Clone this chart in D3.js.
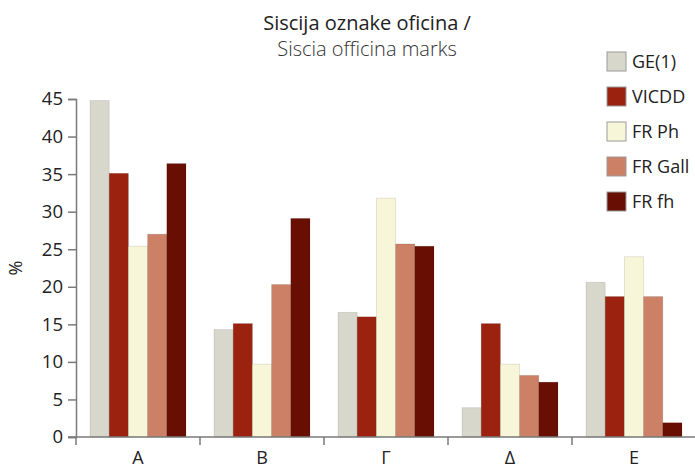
<!DOCTYPE html>
<html>
<head>
<meta charset="utf-8">
<script src="https://cdn.jsdelivr.net/npm/d3@7"></script>
<style>
  body { margin: 0; background: #fff; }
  svg { font-family: "Open Sans", "Noto Sans", sans-serif; }
</style>
</head>
<body>
<svg id="chart" width="695" height="469"></svg>
<script>
// --- Data ---
const categories = ['A', 'B', 'Γ', 'Δ', 'E'];
const seriesNames = ['GE(1)', 'VICDD', 'FR Ph', 'FR Gall', 'FR fh'];
const seriesColors = ['#d8d7cc', '#9c2210', '#f8f6d8', '#cc8167', '#690e02'];
const geValues = [44.8, 14.3, 16.6, 3.9, 20.6];
const vicddValues = [35.1, 15.1, 16.0, 15.1, 18.7];
const frPhValues = [25.4, 9.7, 31.8, 9.7, 24.0];
const frGallValues = [27.0, 20.3, 25.7, 8.2, 18.7];
const frFhValues = [36.4, 29.1, 25.4, 7.3, 1.9];
const yTicks = [0, 5, 10, 15, 20, 25, 30, 35, 40, 45];

const seriesValues = [geValues, vicddValues, frPhValues, frGallValues, frFhValues];

const svg = d3.select('#chart');
const axisColor = '#7a7a7a';
const textColor = '#222';

// --- Scales ---
const x0 = d3.scaleBand().domain(categories).range([76, 696]).padding(0);
const x1 = d3.scaleBand().domain(seriesNames).range([14, x0.bandwidth() - 14]).padding(0);
const y = d3.scaleLinear().domain([0, 45]).range([437, 99]);

// --- Title ---
svg.append('text')
  .attr('x', 367).attr('y', 30)
  .attr('text-anchor', 'middle')
  .attr('font-size', 20)
  .attr('fill', textColor)
  .text('Siscija oznake oficina /');
svg.append('text')
  .attr('x', 367).attr('y', 56)
  .attr('text-anchor', 'middle')
  .attr('font-size', 20)
  .attr('font-weight', 300)
  .attr('fill', '#333')
  .text('Siscia officina marks');

// --- Bars ---
const groups = svg.append('g').selectAll('g')
  .data(categories)
  .join('g')
  .attr('transform', d => `translate(${x0(d)},0)`);

groups.selectAll('rect')
  .data((c, ci) => seriesNames.map((s, si) => ({ s, si, v: seriesValues[si][ci] })))
  .join('rect')
  .attr('x', d => x1(d.s))
  .attr('y', d => y(d.v))
  .attr('width', x1.bandwidth())
  .attr('height', d => y(0) - y(d.v))
  .attr('fill', d => seriesColors[d.si])
  .attr('stroke', 'rgba(0,0,0,0.12)')
  .attr('stroke-width', 0.8);

// --- Y axis ---
const yAxis = svg.append('g')
  .attr('transform', 'translate(76,0)')
  .call(d3.axisLeft(y).tickValues(yTicks).tickSize(8).tickPadding(5));
yAxis.select('.domain').attr('stroke', axisColor).attr('stroke-width', 1.5);
yAxis.selectAll('.tick line').attr('stroke', axisColor).attr('stroke-width', 1.5);
yAxis.selectAll('.tick text')
  .attr('font-size', 18.5)
  .attr('fill', textColor)
  .attr('font-family', '"Open Sans", "Noto Sans", sans-serif');

svg.append('text')
  .attr('transform', 'translate(22,268) rotate(-90)')
  .attr('text-anchor', 'middle')
  .attr('font-size', 18)
  .attr('fill', textColor)
  .text('%');

// --- X axis ---
svg.append('line')
  .attr('x1', 68).attr('x2', 695)
  .attr('y1', y(0)).attr('y2', y(0))
  .attr('stroke', axisColor).attr('stroke-width', 1.5);

svg.append('g').selectAll('line')
  .data(categories)
  .join('line')
  .attr('x1', d => x0(d)).attr('x2', d => x0(d))
  .attr('y1', y(0)).attr('y2', y(0) + 8)
  .attr('stroke', axisColor).attr('stroke-width', 1.5);

svg.append('g').selectAll('text')
  .data(categories)
  .join('text')
  .attr('x', d => x0(d) + x0.bandwidth() / 2)
  .attr('y', 464)
  .attr('text-anchor', 'middle')
  .attr('font-size', 18)
  .attr('fill', textColor)
  .text(d => d);

// --- Legend ---
const legend = svg.append('g').selectAll('g')
  .data(seriesNames)
  .join('g')
  .attr('transform', (d, i) => `translate(607,${52 + i * 35})`);

legend.append('rect')
  .attr('width', 19).attr('height', 19)
  .attr('fill', (d, i) => seriesColors[i])
  .attr('stroke', '#9a9a9a')
  .attr('stroke-width', 1);

legend.append('text')
  .attr('x', 25).attr('y', 16)
  .attr('font-size', 18)
  .attr('fill', textColor)
  .text(d => d);
</script>
</body>
</html>
